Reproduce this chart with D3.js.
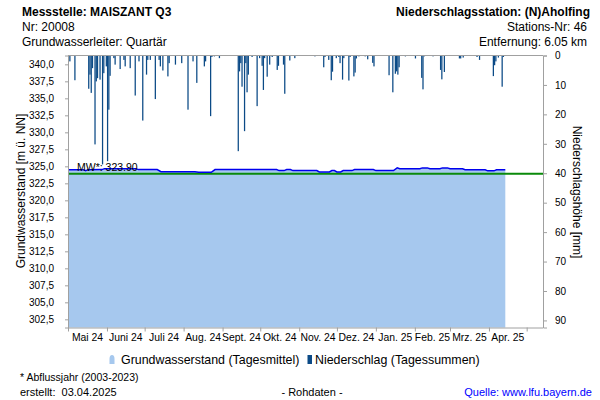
<!DOCTYPE html>
<html><head><meta charset="utf-8">
<script src="https://cdn.jsdelivr.net/npm/d3@7"></script>
<style>body{margin:0;background:#fff} svg{font-family:"Liberation Sans",Arial,sans-serif;display:block}</style>
</head><body><svg id="c" width="600" height="400"></svg>
<script>
// ---------- data ----------
const monthLabels = ["Mai 24","Juni 24","Juli 24","Aug. 24","Sept. 24","Okt. 24","Nov. 24","Dez. 24","Jan. 25","Feb. 25","Mrz. 25","Apr. 25"];
const monthStarts = ["2024-05-01","2024-06-01","2024-07-01","2024-08-01","2024-09-01","2024-10-01","2024-11-01","2024-12-01","2025-01-01","2025-02-01","2025-03-01","2025-04-01","2025-05-01"];
const leftTickValues = [302.5,305,307.5,310,312.5,315,317.5,320,322.5,325,327.5,330,332.5,335,337.5,340];
const rightTickValues = [0,10,20,30,40,50,60,70,80,90];

const precipDates = ["2024-05-02","2024-05-06","2024-05-17","2024-05-18","2024-05-19","2024-05-20","2024-05-22","2024-05-23","2024-05-24","2024-05-26","2024-05-28","2024-05-29","2024-05-31","2024-06-01","2024-06-02","2024-06-03","2024-06-06","2024-06-07","2024-06-11","2024-06-14","2024-06-15","2024-06-19","2024-06-23","2024-06-26","2024-06-29","2024-07-02","2024-07-03","2024-07-05","2024-07-09","2024-07-12","2024-07-13","2024-07-15","2024-07-19","2024-07-20","2024-07-25","2024-07-30","2024-08-04","2024-08-08","2024-08-11","2024-08-17","2024-08-18","2024-08-22","2024-08-23","2024-08-25","2024-08-29","2024-09-13","2024-09-14","2024-09-15","2024-09-16","2024-09-18","2024-09-19","2024-09-20","2024-09-21","2024-09-24","2024-09-28","2024-09-30","2024-10-02","2024-10-03","2024-10-04","2024-10-06","2024-10-08","2024-10-10","2024-10-14","2024-10-15","2024-10-19","2024-10-20","2024-10-24","2024-10-28","2024-11-13","2024-11-20","2024-11-21","2024-11-24","2024-11-26","2024-11-27","2024-11-30","2024-12-02","2024-12-03","2024-12-05","2024-12-06","2024-12-10","2024-12-11","2024-12-14","2024-12-15","2024-12-16","2024-12-18","2024-12-23","2024-12-25","2024-12-29","2024-12-30","2025-01-11","2025-01-14","2025-01-16","2025-01-17","2025-01-18","2025-01-19","2025-01-24","2025-02-01","2025-02-06","2025-02-07","2025-02-08","2025-02-15","2025-02-21","2025-02-22","2025-02-24","2025-03-08","2025-03-09","2025-03-11","2025-03-22","2025-03-24","2025-04-04","2025-04-05","2025-04-06","2025-04-08","2025-04-11","2025-04-12"];
const precipValues = [2.0,8.4,11.3,6.5,12.7,4.3,30.2,8.8,7.7,8.2,37.0,6.0,3.7,35.9,18.4,6.9,0.9,3.1,4.6,1.5,3.7,4.3,13.6,2.0,22.1,6.5,1.5,1.5,14.8,1.5,3.7,5.1,7.1,2.6,3.1,2.6,18.4,2.0,9.3,3.7,2.0,20.6,0.5,0.3,0.9,32.5,5.4,2.6,10.6,25.7,2.6,12.5,6.5,0.5,17.2,0.9,3.5,11.7,0.9,7.2,3.1,0.5,4.9,3.5,3.1,13.0,1.7,0.9,0.3,4.0,0.5,1.5,8.4,5.5,0.9,0.5,2.6,8.2,0.9,8.5,0.5,7.1,5.8,1.0,0.3,0.3,1.3,2.5,3.7,6.7,12.5,6.2,5.4,6.5,4.0,0.3,1.0,7.6,11.5,0.3,0.3,4.9,8.1,5.6,1.0,1.0,0.7,0.5,1.5,7.0,3.3,2.0,0.7,10.6,0.5];

const gwDates = ["2024-05-01","2024-05-13","2024-05-15","2024-05-17","2024-05-28","2024-05-30","2024-06-24","2024-06-26","2024-07-11","2024-07-14","2024-08-10","2024-08-13","2024-08-23","2024-08-26","2024-10-14","2024-10-16","2024-10-20","2024-10-22","2024-10-25","2024-10-27","2024-11-15","2024-11-17","2024-11-25","2024-11-27","2024-11-29","2024-12-01","2024-12-04","2024-12-06","2024-12-13","2024-12-15","2024-12-30","2025-01-01","2025-01-15","2025-01-18","2025-01-20","2025-02-05","2025-02-07","2025-02-11","2025-02-13","2025-02-21","2025-02-23","2025-02-27","2025-03-01","2025-03-11","2025-03-13","2025-03-29","2025-03-31","2025-04-05","2025-04-07","2025-04-14"];
const gwValues = [324.51,324.51,324.37,324.51,324.52,324.66,324.66,324.52,324.52,324.22,324.22,324.12,324.12,324.52,324.52,324.37,324.37,324.52,324.52,324.37,324.37,324.17,324.17,324.37,324.37,324.17,324.17,324.37,324.37,324.52,324.52,324.37,324.37,324.77,324.64,324.64,324.77,324.77,324.64,324.64,324.77,324.77,324.64,324.64,324.49,324.49,324.34,324.34,324.49,324.49];

const meanLevel = 323.90;

// ---------- layout ----------
const L = 68, R = 543, T = 55.5, B = 327.5;
const parse = d3.utcParse("%Y-%m-%d");
const svg = d3.select("#c");
const x = d3.scaleUtc().domain([parse("2024-05-01"), parse("2025-05-14")]).range([L, R]);
const yL = d3.scaleLinear().domain([301.3, 341.3]).range([B, T]);
const yR = d3.scaleLinear().domain([0, 92.4]).range([T, B]);
const axisGrey = "#a0a0a0";
const barColor = "#0b4a86";
const fillColor = "#a6c8ee";

// groundwater area
const gw = gwDates.map((d, i) => ({ date: parse(d), v: gwValues[i] }));
svg.append("path").datum(gw)
  .attr("d", d3.area().x(d => x(d.date)).y0(B).y1(d => yL(d.v)))
  .attr("fill", fillColor);

// mean water level line
svg.append("line").attr("x1", L).attr("x2", R)
  .attr("y1", yL(meanLevel)).attr("y2", yL(meanLevel))
  .attr("stroke", "#0a8a0a").attr("stroke-width", 2);

// groundwater line
svg.append("path").datum(gw)
  .attr("d", d3.line().x(d => x(d.date)).y(d => yL(d.v)))
  .attr("fill", "none").attr("stroke", "#0000ee").attr("stroke-width", 1.5);

// MW label
svg.append("text").attr("x", 77).attr("y", 170.5).attr("font-size", 10.5)
  .attr("fill", "#000").text("MW*: " + meanLevel.toFixed(2));

// precipitation bars
const pr = precipDates.map((d, i) => ({ date: parse(d), v: precipValues[i] }));
svg.append("g").selectAll("rect").data(pr).join("rect")
  .attr("x", d => x(d.date))
  .attr("width", d => x(d3.utcDay.offset(d.date, 1)) - x(d.date))
  .attr("y", yR(0))
  .attr("height", d => yR(d.v) - yR(0))
  .attr("fill", barColor);

// frame top line
svg.append("line").attr("x1", L).attr("x2", R).attr("y1", T).attr("y2", T)
  .attr("stroke", axisGrey);

// left axis
const gL = svg.append("g").attr("transform", `translate(${L},0)`)
  .call(d3.axisLeft(yL).tickValues(leftTickValues).tickSize(3).tickPadding(11)
    .tickFormat(d => d3.format(".1f")(d).replace(".", ",")));
// right axis
const gR = svg.append("g").attr("transform", `translate(${R},0)`)
  .call(d3.axisRight(yR).tickValues(rightTickValues).tickSize(4).tickPadding(8));
// bottom axis
const ms = monthStarts.map(parse);
const gB = svg.append("g").attr("transform", `translate(0,${B})`)
  .call(d3.axisBottom(x).tickValues(ms).tickSize(4).tickFormat(""));
[gL, gR, gB].forEach(g => {
  g.select(".domain").attr("stroke", axisGrey);
  g.selectAll(".tick line").attr("stroke", axisGrey);
  g.selectAll("text").attr("font-size", 10).attr("fill", "#000")
    .attr("font-family", '"Liberation Sans",Arial,sans-serif');
});
gB.select(".domain").attr("d", `M${L},0.5H${R}`);

// month labels centered between ticks
svg.append("g").selectAll("text").data(monthLabels).join("text")
  .attr("x", (d, i) => (x(ms[i]) + x(ms[i + 1])) / 2)
  .attr("y", 341)
  .attr("text-anchor", "middle").attr("font-size", 10.4)
  .attr("fill", "#000")
  .text(d => d);

// axis titles
svg.append("text").attr("transform", "translate(25,191) rotate(-90)")
  .attr("text-anchor", "middle").attr("font-size", 12).text("Grundwasserstand [m ü. NN]");
svg.append("text").attr("transform", "translate(573,192) rotate(90)")
  .attr("text-anchor", "middle").attr("font-size", 12).text("Niederschlagshöhe [mm]");

// header
const hdr = [
  { t: "Messstelle: MAISZANT Q3", x: 22, y: 15.5, a: "start", w: "bold" },
  { t: "Nr: 20008", x: 22, y: 30.5, a: "start", w: "normal" },
  { t: "Grundwasserleiter: Quartär", x: 22, y: 46, a: "start", w: "normal" },
  { t: "Niederschlagsstation: (N)Aholfing", x: 590, y: 15.5, a: "end", w: "bold" },
  { t: "Stations-Nr: 46", x: 587, y: 30.5, a: "end", w: "normal" },
  { t: "Entfernung: 6.05 km", x: 587, y: 46, a: "end", w: "normal" }
];
svg.append("g").selectAll("text").data(hdr).join("text")
  .attr("x", d => d.x).attr("y", d => d.y).attr("text-anchor", d => d.a)
  .attr("font-weight", d => d.w).attr("font-size", 12).attr("fill", "#000")
  .text(d => d.t);

// legend
svg.append("path")
  .attr("d", "M109.5,364 L109.5,359 Q109.5,355 112,355 Q114.5,355 114.5,359 L114.5,364 Z")
  .attr("fill", fillColor);
svg.append("text").attr("x", 121).attr("y", 364).attr("font-size", 12.4)
  .text("Grundwasserstand (Tagesmittel)");
svg.append("rect").attr("x", 307.5).attr("y", 355).attr("width", 4.5).attr("height", 9)
  .attr("fill", barColor);
svg.append("text").attr("x", 315).attr("y", 364).attr("font-size", 12.4)
  .text("Niederschlag (Tagessummen)");

// footer
svg.append("text").attr("x", 20).attr("y", 381).attr("font-size", 10.5)
  .text("* Abflussjahr (2003-2023)");
svg.append("text").attr("x", 20).attr("y", 396).attr("font-size", 11)
  .attr("xml:space", "preserve").text("erstellt:  03.04.2025");
svg.append("text").attr("x", 312).attr("y", 396).attr("font-size", 11)
  .attr("text-anchor", "middle").text("- Rohdaten -");
svg.append("text").attr("x", 592).attr("y", 396).attr("font-size", 11)
  .attr("text-anchor", "end").attr("fill", "#0000ff").text("Quelle: www.lfu.bayern.de");
</script>
</body></html>
